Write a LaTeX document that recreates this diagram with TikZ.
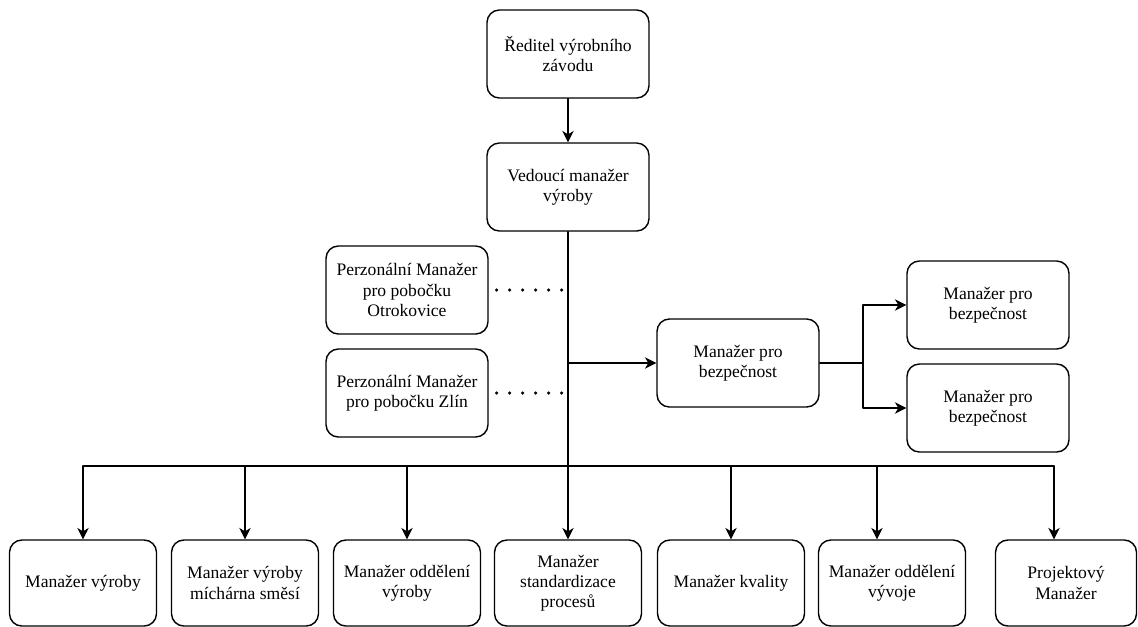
\documentclass[tikz,border=0pt]{standalone}
\usepackage{fontspec}
\setmainfont{Liberation Serif}
\usetikzlibrary{arrows.meta,positioning}
\tikzset{
  box/.style={draw, rounded corners=7pt, line width=0.8pt, align=center, minimum width=3.24cm, minimum height=1.76cm, inner sep=2pt, font=\rmfamily\fontsize{10}{11.5}\selectfont},
  lowbox/.style={box, minimum width=2.94cm, minimum height=1.72cm},
  conn/.style={line width=0.8pt},
  arr/.style={conn, -{Stealth[length=6.5pt,width=6.5pt,inset=2pt]}},
  dots/.style={line width=2pt, dash pattern=on 0pt off 7.4pt},
  every picture/.style={line cap=round, line join=round}
}

\begin{document}
\begin{tikzpicture}[x=0.02cm, y=-0.02cm]
  \useasboundingbox (0,0) rectangle (1138,626);
  \node[box] (dir) at (568,54) {Ředitel výrobního\\závodu};
  \node[box] (ved) at (568,187) {Vedoucí manažer\\výroby};
  \node[box] (p1) at (407,290) {Perzonální Manažer\\pro pobočku\\Otrokovice};
  \node[box] (p2) at (407,393) {Perzonální Manažer\\pro pobočku Zlín};
  \node[box] (bz) at (738,363) {Manažer pro\\bezpečnost};
  \node[box] (bz1) at (988,305) {Manažer pro\\bezpečnost};
  \node[box] (bz2) at (988,408) {Manažer pro\\bezpečnost};
  \node[lowbox] (m1) at (83,583) {Manažer výroby};
  \node[lowbox] (m2) at (245,583) {Manažer výroby\\míchárna směsí};
  \node[lowbox] (m3) at (407,583) {Manažer oddělení\\výroby};
  \node[lowbox] (m4) at (568,583) {Manažer\\standardizace\\procesů};
  \node[lowbox] (m5) at (731,583) {Manažer kvality};
  \node[lowbox] (m6) at (892,583) {Manažer oddělení\\vývoje};
  \node[lowbox, minimum width=2.82cm] (m7) at (1066,583) {Projektový\\Manažer};
  \coordinate (bus) at (568,466);
  \coordinate (fork) at (863,363);
  \coordinate (t6) at (877,466);
  \coordinate (t7) at (1054,466);
  \draw[arr] (dir) -- (ved);
  \draw[conn] (ved) -- (bus);
  \draw[dots] ([xshift=0.16cm]p1.east) -- (p1 -| ved);
  \draw[dots] ([xshift=0.16cm]p2.east) -- (p2 -| ved);
  \draw[arr] (bz -| ved) -- (bz);
  \draw[conn] (bz) -- (fork);
  \draw[arr] (fork) |- (bz1);
  \draw[arr] (fork) |- (bz2);
  \draw[conn] (m1 |- bus) -- (t7);
  \foreach \m in {m1,m2,m3,m4,m5}
    \draw[arr] (\m |- bus) -- (\m);
  \draw[arr] (t6) -- (t6 |- m6.north);
  \draw[arr] (t7) -- (t7 |- m7.north);
\end{tikzpicture}
\end{document}
